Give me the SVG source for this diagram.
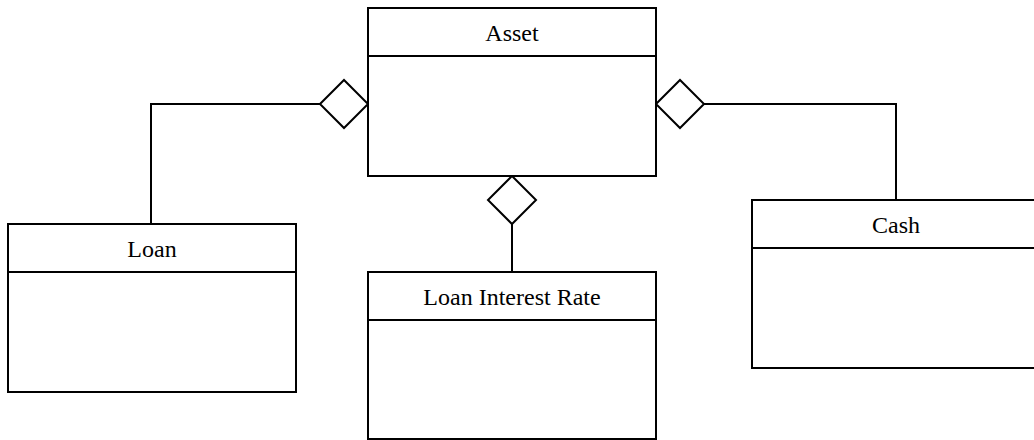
<svg xmlns="http://www.w3.org/2000/svg" width="1034" height="440" viewBox="0 0 1034 440">
  <style>
    .box { fill: #ffffff; stroke: #000000; stroke-width: 2; }
    .div { stroke: #000000; stroke-width: 2; fill: none; }
    .link { stroke: #000000; stroke-width: 2; fill: none; }
    .agg { fill: #ffffff; stroke: #000000; stroke-width: 2; stroke-linejoin: miter; }
    .name { font-family: "Liberation Serif", "Times New Roman", serif; font-size: 24px; fill: #000000; text-anchor: middle; }
  </style>
  <rect width="1034" height="440" fill="#ffffff"/>

  <!-- aggregation links: line plus hollow diamond at the Asset end -->
  <g id="connectors">
    <polyline class="link" points="151,224 151,104 320,104"/>
    <polygon class="agg" points="320,104 344,80 368,104 344,128"/>
    <polyline class="link" points="896,200 896,104 704,104"/>
    <polygon class="agg" points="656,104 680,80 704,104 680,128"/>
    <line class="link" x1="512" y1="224" x2="512" y2="272"/>
    <polygon class="agg" points="512,176 536,200 512,224 488,200"/>
  </g>

  <g id="asset">
    <rect class="box" x="368" y="8" width="288" height="168"/>
    <line class="div" x1="368" y1="56" x2="656" y2="56"/>
    <text class="name" x="512" y="41">Asset</text>
  </g>

  <g id="loan">
    <rect class="box" x="8" y="224" width="288" height="168"/>
    <line class="div" x1="8" y1="272" x2="296" y2="272"/>
    <text class="name" x="152" y="257">Loan</text>
  </g>

  <g id="loan-interest-rate">
    <rect class="box" x="368" y="272" width="288" height="167"/>
    <line class="div" x1="368" y1="320" x2="656" y2="320"/>
    <text class="name" x="512" y="305">Loan Interest Rate</text>
  </g>

  <g id="cash">
    <rect class="box" x="752" y="200" width="288" height="168"/>
    <line class="div" x1="752" y1="248" x2="1040" y2="248"/>
    <text class="name" x="896" y="233">Cash</text>
  </g>
</svg>
